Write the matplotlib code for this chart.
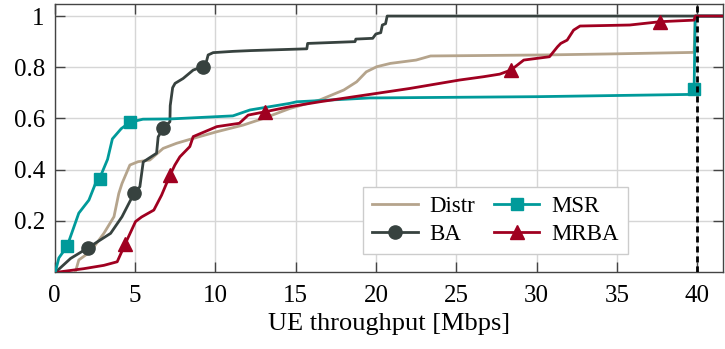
import numpy as np
import matplotlib
matplotlib.use("Agg")
import matplotlib.pyplot as plt
from matplotlib.lines import Line2D

# ---- data ----
distr_x = [1.3, 1.51, 2.24, 3.07, 3.7, 4.0, 4.2, 4.69, 5.2, 5.93, 6.76, 7.6, 8.63, 10.1,
           11.74, 13.0, 14.65, 16.5, 18.0, 18.8, 19.4, 20.05, 20.9, 22.5, 23.4, 30.5,
           34.6, 39.8, 39.87, 41.6]
distr_y = [0.0, 0.047, 0.08, 0.151, 0.216, 0.307, 0.346, 0.418, 0.431, 0.4375, 0.483, 0.503,
           0.522, 0.548, 0.574, 0.6, 0.639, 0.672, 0.711, 0.743, 0.782, 0.802, 0.815, 0.828,
           0.844, 0.848, 0.852, 0.858, 1.0, 1.0]

ba_x = [0.08, 1.0, 2.1, 3.49, 4.2, 4.97, 5.31, 5.52, 6.35, 6.45, 6.76, 7.18, 7.2, 7.35,
        7.5, 8.0, 8.63, 9.22, 9.4, 9.56, 9.87, 11.1, 12.2, 15.7, 15.75, 18.7, 18.75, 19.8,
        20.0, 20.3, 20.4, 20.6, 20.7, 41.6]
ba_y = [0.0, 0.053, 0.095, 0.151, 0.216, 0.31, 0.333, 0.43, 0.464, 0.528, 0.561, 0.587,
        0.65, 0.72, 0.737, 0.756, 0.789, 0.802, 0.81, 0.848, 0.857, 0.862, 0.865, 0.872,
        0.893, 0.9, 0.91, 0.913, 0.93, 0.935, 0.965, 0.97, 1.0, 1.0]

msr_x = [0.05, 0.27, 0.78, 1.1, 1.51, 2.14, 2.55, 2.8, 3.3, 3.6, 4.15, 4.7, 5.5, 7.2,
         11.1, 12.16, 14.65, 15.07, 19.6, 30.0, 39.77, 39.8, 39.87, 41.6]
msr_y = [0.0, 0.055, 0.1, 0.157, 0.23, 0.281, 0.346, 0.365, 0.44, 0.52, 0.56, 0.585, 0.597,
         0.598, 0.61, 0.633, 0.659, 0.665, 0.68, 0.685, 0.694, 0.715, 1.0, 1.0]

mrba_x = [0.27, 1.82, 3.07, 3.9, 4.4, 5.04, 5.42, 6.18, 6.66, 7.2, 7.49, 7.8, 8.42, 8.63,
          10.1, 11.5, 12.05, 13.1, 14.65, 16.5, 19.2, 22.1, 25.2, 26.7, 27.7, 28.4, 29.2,
          30.8, 31.3, 31.5, 31.9, 32.3, 32.7, 35.8, 37.7, 39.8, 39.87, 41.6]
mrba_y = [0.0, 0.013, 0.026, 0.04, 0.11, 0.197, 0.215, 0.242, 0.30, 0.38, 0.418, 0.45, 0.49,
          0.529, 0.568, 0.581, 0.613, 0.626, 0.646, 0.665, 0.69, 0.717, 0.75, 0.763, 0.773,
          0.789, 0.828, 0.841, 0.88, 0.893, 0.906, 0.945, 0.961, 0.965, 0.978, 0.984, 1.0, 1.0]

ba_marks = [2.1, 4.97, 6.76, 9.22]
msr_marks = [0.78, 2.8, 4.7, 39.8]
mrba_marks = [4.4, 7.2, 13.1, 28.4, 37.7]

labels = ["Distr", "BA", "MSR", "MRBA"]
x_ticks = [0, 5, 10, 15, 20, 25, 30, 35, 40]
y_ticks = [0.2, 0.4, 0.6, 0.8, 1.0]
y_ticklabels = ["0.2", "0.4", "0.6", "0.8", "1"]
xlabel = "UE throughput [Mbps]"
limit_x = 40

# ---- style ----
c_distr = "#b5a48c"
c_ba = "#37423f"
c_msr = "#009a9a"
c_mrba = "#a00020"

plt.rcParams["font.family"] = ["Liberation Serif", "DejaVu Serif"]

fig = plt.figure(figsize=(7.25, 3.49), dpi=100)
ax = fig.add_axes([0.0752, 0.2206, 0.9221, 0.7679])

def idx(xs, marks):
    xs = np.asarray(xs)
    return [int(np.argmin(np.abs(xs - m))) for m in marks]

lw = 2.0
ax.plot(distr_x, distr_y, color=c_distr, lw=lw, zorder=3)
ax.plot(ba_x, ba_y, color=c_ba, lw=lw, marker="o", ms=9.5,
        markevery=idx(ba_x, ba_marks), zorder=4)
ax.plot(msr_x, msr_y, color=c_msr, lw=lw, marker="s", ms=8.5,
        markevery=idx(msr_x, msr_marks), zorder=5)
ax.plot(mrba_x, mrba_y, color=c_mrba, lw=lw, marker="^", ms=9.5,
        markevery=idx(mrba_x, mrba_marks), zorder=6)

ax.axvline(limit_x, color="black", lw=2.0, ls=(0, (2.2, 1.4)), zorder=7)

ax.set_xlim(0, 41.6)
ax.set_ylim(0, 1.047)
ax.set_xticks(x_ticks)
ax.set_yticks(y_ticks)
ax.set_yticklabels(y_ticklabels)
ax.grid(True, color="#d6d6d6", lw=1.0, zorder=0)
ax.set_axisbelow(True)
ax.tick_params(direction="in", length=7, width=1.0, color="#444444",
               top=True, right=True, labelsize=18)
ax.tick_params(axis="x", pad=9)
ax.tick_params(axis="y", pad=7)
for s in ax.spines.values():
    s.set_color("#444444")
    s.set_linewidth(1.0)
ax.set_xlabel(xlabel, fontsize=19, labelpad=5)

handles = [
    Line2D([], [], color=c_distr, lw=lw),
    Line2D([], [], color=c_ba, lw=lw, marker="o", ms=9.5),
    Line2D([], [], color=c_msr, lw=lw, marker="s", ms=8.5),
    Line2D([], [], color=c_mrba, lw=lw, marker="^", ms=9.5),
]
leg = ax.legend(handles, labels, ncol=2, loc="upper left",
                bbox_to_anchor=(0.4615, 0.317), borderaxespad=0,
                fontsize=16.5, frameon=True, fancybox=False, framealpha=1,
                edgecolor="#cccccc", handlelength=2.0, handletextpad=0.5,
                columnspacing=0.8, labelspacing=0.3, borderpad=0.4)
leg.get_frame().set_linewidth(1.0)
leg.set_zorder(10)

fig.savefig("out.png", dpi=100)
